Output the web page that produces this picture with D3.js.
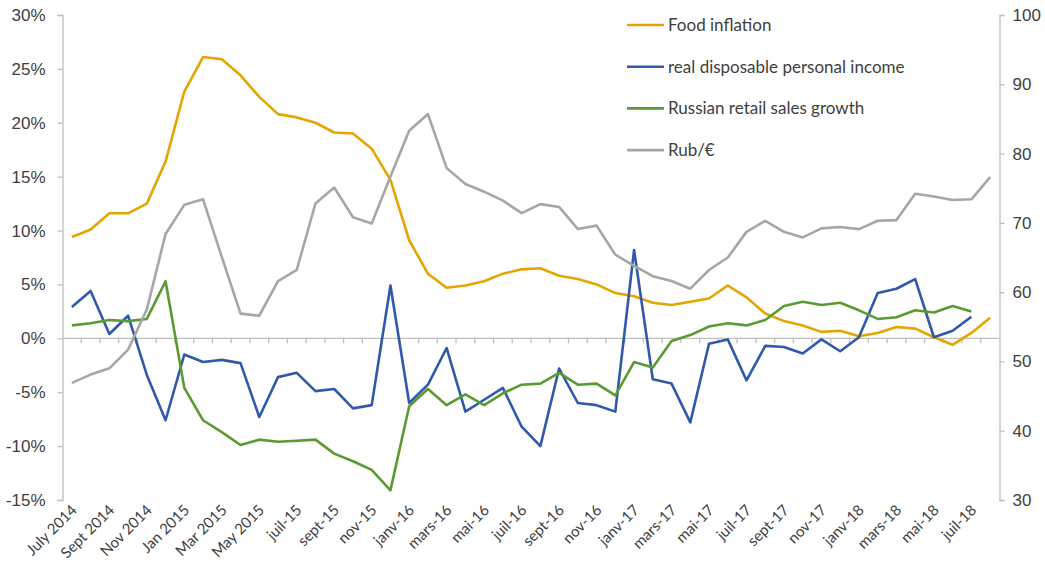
<!DOCTYPE html>
<html>
<head>
<meta charset="utf-8">
<script src="https://cdn.jsdelivr.net/npm/d3@7"></script>
<style>
  body { margin: 0; background: #fff; }
  svg { font-family: Lato, "Open Sans", sans-serif; }
</style>
</head>
<body>
<svg width="1045" height="571"></svg>
<script>
// months July 2014 .. Aug 2018
const months = ["July 2014", "Aug 2014", "Sept 2014", "Oct 2014", "Nov 2014", "Dec 2014",
  "Jan 2015", "Feb 2015", "Mar 2015", "Apr 2015", "May 2015", "juin-15",
  "juil-15", "août-15", "sept-15", "oct-15", "nov-15", "déc-15",
  "janv-16", "févr-16", "mars-16", "avr-16", "mai-16", "juin-16",
  "juil-16", "août-16", "sept-16", "oct-16", "nov-16", "déc-16",
  "janv-17", "févr-17", "mars-17", "avr-17", "mai-17", "juin-17",
  "juil-17", "août-17", "sept-17", "oct-17", "nov-17", "déc-17",
  "janv-18", "févr-18", "mars-18", "avr-18", "mai-18", "juin-18",
  "juil-18", "août-18"];

const foodInflation = [9.4, 10.1, 11.6, 11.6, 12.5, 16.4, 22.9, 26.1, 25.9, 24.4,
  22.4, 20.8, 20.5, 20.0, 19.1, 19.0, 17.6, 14.7, 9.1, 6.0,
  4.7, 4.9, 5.3, 6.0, 6.4, 6.5, 5.8, 5.5, 5.0, 4.2,
  3.9, 3.3, 3.1, 3.4, 3.7, 4.9, 3.8, 2.3, 1.6, 1.2,
  0.6, 0.7, 0.2, 0.5, 1.05, 0.9, 0.1, -0.6, 0.5, 1.9];

const realIncome = [2.9, 4.4, 0.4, 2.1, -3.4, -7.6, -1.5, -2.2, -2.0, -2.3,
  -7.3, -3.6, -3.2, -4.9, -4.7, -6.5, -6.2, 4.9, -6.0, -4.3,
  -0.9, -6.8, -5.7, -4.6, -8.2, -10.0, -2.8, -6.0, -6.2, -6.8,
  8.2, -3.8, -4.2, -7.8, -0.5, -0.1, -3.9, -0.7, -0.8, -1.4,
  -0.1, -1.2, 0.1, 4.2, 4.6, 5.5, 0.1, 0.7, 2.0, null];

const retailSales = [1.2, 1.4, 1.7, 1.6, 1.8, 5.3, -4.6, -7.6, -8.7, -9.9,
  -9.4, -9.6, -9.5, -9.4, -10.7, -11.4, -12.2, -14.1, -6.3, -4.7,
  -6.2, -5.2, -6.2, -5.1, -4.3, -4.2, -3.2, -4.3, -4.2, -5.3,
  -2.2, -2.7, -0.25, 0.3, 1.1, 1.4, 1.2, 1.7, 3.0, 3.4,
  3.1, 3.3, 2.6, 1.8, 1.95, 2.6, 2.4, 3.0, 2.5, null];

const rubEur = [46.9, 48.1, 49.0, 51.7, 57.5, 68.4, 72.6, 73.4, 65.1, 56.9,
  56.6, 61.6, 63.2, 72.8, 75.1, 70.8, 69.9, 76.7, 83.3, 85.7,
  77.9, 75.6, 74.5, 73.2, 71.4, 72.7, 72.3, 69.1, 69.6, 65.4,
  63.8, 62.3, 61.6, 60.5, 63.2, 65.0, 68.7, 70.3, 68.7, 67.9,
  69.2, 69.4, 69.1, 70.3, 70.4, 74.2, 73.8, 73.3, 73.4, 76.6];

const leftTicks = [-15, -10, -5, 0, 5, 10, 15, 20, 25, 30];
const rightTicks = [30, 40, 50, 60, 70, 80, 90, 100];

const series = [
  { name: "Food inflation", values: foodInflation, color: "#e5a500", axis: "left" },
  { name: "real disposable personal income", values: realIncome, color: "#3059ab", axis: "left" },
  { name: "Russian retail sales growth", values: retailSales, color: "#5a9a32", axis: "left" },
  { name: "Rub/€", values: rubEur, color: "#a6a6a6", axis: "right" }
];

const svg = d3.select("svg");
const axisColor = "#bfbfbf";
const textColor = "#404040";

const x = d3.scaleBand()
  .domain(months)
  .range([62.5, 999.5]);

const yL = d3.scaleLinear().domain([-15, 30]).range([500, 15]);
const yR = d3.scaleLinear().domain([30, 100]).range([500, 15]);

// left axis
const gl = svg.append("g")
  .attr("transform", "translate(62.5,0)")
  .call(d3.axisLeft(yL).tickValues(leftTicks).tickFormat(d => d + "%").tickSize(5).tickPadding(12));
gl.selectAll(".domain, line").attr("stroke", axisColor).attr("stroke-width", 1.3);
gl.selectAll("text").attr("fill", textColor).style("font-size", "17px");

// right axis
const gr = svg.append("g")
  .attr("transform", "translate(999.5,0)")
  .call(d3.axisRight(yR).tickValues(rightTicks).tickSize(5).tickPadding(8));
gr.selectAll(".domain, line").attr("stroke", axisColor).attr("stroke-width", 1.3);
gr.selectAll("text").attr("fill", textColor).style("font-size", "17px");

// category axis on the 0% line
const gx = svg.append("g")
  .attr("transform", `translate(0,${yL(0)})`);
gx.append("line")
  .attr("x1", 62.5).attr("x2", 999.5)
  .attr("stroke", axisColor).attr("stroke-width", 1.3);
gx.selectAll(".tk")
  .data(months.slice(1))
  .join("line")
  .attr("x1", d => x(d)).attr("x2", d => x(d))
  .attr("y1", 0).attr("y2", 5)
  .attr("stroke", axisColor).attr("stroke-width", 1.3);

// month labels, every second one, rotated
svg.append("g")
  .selectAll("text")
  .data(months.filter((d, i) => i % 2 === 0))
  .join("text")
  .attr("transform", d => `translate(${x(d) + x.bandwidth() / 2 + 6},${511}) rotate(-45)`)
  .attr("text-anchor", "end")
  .attr("fill", textColor)
  .style("font-size", "15px")
  .text(d => d);

// lines
series.forEach(s => {
  const y = s.axis === "left" ? yL : yR;
  const line = d3.line()
    .defined(d => d != null)
    .x((d, i) => x(months[i]) + x.bandwidth() / 2)
    .y(d => y(d));
  svg.append("path")
    .datum(s.values)
    .attr("fill", "none")
    .attr("stroke", s.color)
    .attr("stroke-width", 2.6)
    .attr("stroke-linejoin", "round")
    .attr("d", line);
});

// legend
const legend = svg.append("g")
  .attr("transform", "translate(627,25)");
const item = legend.selectAll("g")
  .data(series)
  .join("g")
  .attr("transform", (d, i) => `translate(0,${i * 41.7})`);
item.append("line")
  .attr("x1", 0).attr("x2", 37)
  .attr("stroke", d => d.color)
  .attr("stroke-width", 2.6);
item.append("text")
  .attr("x", 41)
  .attr("dy", "0.35em")
  .attr("fill", textColor)
  .style("font-size", "17px")
  .text(d => d.name);
</script>
</body>
</html>
